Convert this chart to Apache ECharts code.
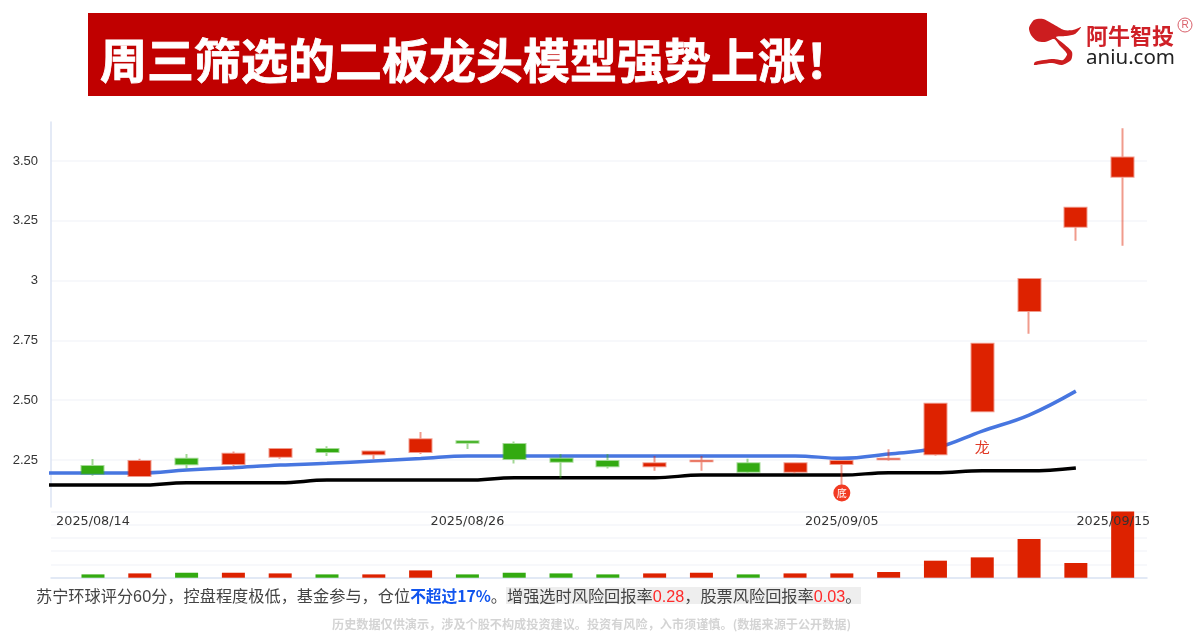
<!DOCTYPE html>
<html>
<head>
<meta charset="utf-8">
<title>周三筛选的二板龙头模型强势上涨</title>
<script src="https://cdn.jsdelivr.net/npm/echarts@6/dist/echarts.min.js"></script>
<style>
	html, body { margin: 0; padding: 0; background: #fff; }
	#main { width: 1201px; height: 640px; }
</style>
</head>
<body>
<div id="main"></div>
<script>
	var dates = ['2025/08/14', '2025/08/15', '2025/08/18', '2025/08/19', '2025/08/20', '2025/08/21', '2025/08/22', '2025/08/25',
		'2025/08/26', '2025/08/27', '2025/08/28', '2025/08/29', '2025/09/01', '2025/09/02', '2025/09/03', '2025/09/04',
		'2025/09/05', '2025/09/08', '2025/09/09', '2025/09/10', '2025/09/11', '2025/09/12', '2025/09/15'];
	var opens = [2.225, 2.183, 2.255, 2.233, 2.264, 2.296, 2.274, 2.283, 2.328, 2.317, 2.255, 2.246, 2.224, 2.245, 2.236, 2.201, 2.233, 2.253, 2.274, 2.454, 2.873, 3.225, 3.434];
	var closes = [2.193, 2.246, 2.232, 2.276, 2.296, 2.283, 2.286, 2.337, 2.322, 2.254, 2.243, 2.224, 2.236, 2.247, 2.201, 2.236, 2.246, 2.255, 2.485, 2.736, 3.007, 3.305, 3.515];
	var lows = [2.184, 2.183, 2.215, 2.225, 2.255, 2.267, 2.254, 2.275, 2.296, 2.235, 2.175, 2.214, 2.205, 2.205, 2.194, 2.194, 2.145, 2.247, 2.268, 2.454, 2.778, 3.167, 3.146];
	var highs = [2.254, 2.255, 2.275, 2.286, 2.296, 2.307, 2.286, 2.367, 2.328, 2.327, 2.275, 2.275, 2.267, 2.267, 2.255, 2.236, 2.246, 2.295, 2.485, 2.736, 3.007, 3.305, 3.637];
	var volumes = [5, 6.5, 7.5, 7.5, 6.5, 5, 5, 11, 5, 7.5, 6.5, 5, 6.5, 7.5, 5, 6.5, 6.5, 8.6, 25.7, 30.7, 58.5, 22.2, 100];
	// 两条均线都比第一根K线多一个点，从左边界画进来
	var blueLine = [2.196, 2.196, 2.196, 2.208, 2.218, 2.229, 2.236, 2.246, 2.256, 2.267, 2.267, 2.267, 2.267, 2.267, 2.267, 2.267, 2.267, 2.257, 2.275, 2.300, 2.371, 2.438, 2.538];
	var blackLine = [2.145, 2.145, 2.145, 2.155, 2.155, 2.155, 2.166, 2.166, 2.166, 2.166, 2.176, 2.176, 2.176, 2.176, 2.187, 2.187, 2.187, 2.187, 2.197, 2.197, 2.205, 2.205, 2.217];
	var priceTicks = [2.25, 2.5, 2.75, 3, 3.25, 3.5];
	var dateTicks = [0, 8, 16, 21.8]; // 最后一个日期标签向内收了一点
	var logoOutline = [[1029, 28], [1034, 20], [1043, 19], [1053, 24], [1064, 30], [1073, 30], [1081, 27], [1075, 34], [1066, 36], [1056, 37],
		[1064, 44], [1072, 52], [1071, 60], [1062, 65], [1052, 63], [1042, 64], [1034, 65], [1035, 62], [1044, 60], [1054, 59], [1063, 60], [1067, 54], [1060, 46], [1054, 39], [1045, 42], [1037, 41], [1031, 35]];

	var red = '#dd2200';
	var green = '#33aa11';

	var candleData = [];
	var volumeData = [];
	for (var i = 0; i < dates.length; i++) {
		candleData.push([i, opens[i], closes[i], lows[i], highs[i]]);
		volumeData.push({
			value: [i, volumes[i]],
			itemStyle: { color: closes[i] > opens[i] ? red : green }
		});
	}

	function linePoints(values) {
		var pts = [];
		for (var i = 0; i < values.length; i++) {
			pts.push([i - 1, values[i]]);
		}
		return pts;
	}

	var xMin = -0.897;
	var xMax = 22.52;
	var paleLine = '#f4f6fa';
	var axisBlue = '#dbe3f3';

	var chart = echarts.init(document.getElementById('main'), null, { renderer: 'canvas' });
	var option = {
		animation: false,
		backgroundColor: '#fff',
		grid: [
			{ left: 51, width: 1096, top: 122, height: 385 },
			{ left: 51, width: 1096, top: 511.5, height: 66.2 }
		],
		xAxis: [{
			type: 'value',
			gridIndex: 0,
			min: xMin,
			max: xMax,
			z: 5,
			splitLine: { show: false },
			axisLine: { show: false },
			axisTick: { show: false, customValues: dateTicks },
			axisLabel: {
				customValues: dateTicks,
				margin: 8,
				color: '#333',
				fontSize: 12.8,
				fontFamily: 'DejaVu Sans',
				formatter: function(v) {
					return dates[Math.ceil(v)];
				}
			}
		}, {
			type: 'value',
			gridIndex: 1,
			min: xMin,
			max: xMax,
			splitLine: { show: false },
			axisLine: { show: true, onZero: false, lineStyle: { color: axisBlue, width: 1.5 } },
			axisTick: { show: false },
			axisLabel: { show: false }
		}],
		yAxis: [{
			type: 'value',
			gridIndex: 0,
			min: 2.0535,
			max: 3.663,
			axisLine: { show: true, onZero: false, lineStyle: { color: axisBlue, width: 1.5 } },
			axisTick: { show: false, customValues: priceTicks },
			splitLine: { show: true, lineStyle: { color: paleLine, width: 1.5 } },
			axisLabel: {
				customValues: priceTicks,
				margin: 13,
				padding: [4, 0, 0, 0],
				color: '#333',
				fontSize: 13,
				fontFamily: 'Liberation Sans',
				formatter: function(v) {
					return v === 3 ? '3' : v.toFixed(2);
				}
			}
		}, {
			type: 'value',
			gridIndex: 1,
			min: 0,
			max: 100,
			interval: 20,
			axisLine: { show: false },
			axisTick: { show: false },
			axisLabel: { show: false },
			splitLine: { show: true, lineStyle: { color: paleLine, width: 1.5 } }
		}],
		series: [{
			name: 'blue',
			type: 'line',
			xAxisIndex: 0,
			yAxisIndex: 0,
			data: linePoints(blueLine),
			smooth: 0.4,
			showSymbol: false,
			z: 2,
			lineStyle: { color: '#4776e0', width: 3.5 }
		}, {
			name: 'black',
			type: 'line',
			xAxisIndex: 0,
			yAxisIndex: 0,
			data: linePoints(blackLine),
			smooth: 0.4,
			showSymbol: false,
			z: 2,
			lineStyle: { color: '#000', width: 3.5 }
		}, {
			name: 'kline',
			type: 'candlestick',
			xAxisIndex: 0,
			yAxisIndex: 0,
			data: candleData,
			barWidth: 22.5,
			z: 3,
			itemStyle: {
				color: red,
				color0: green,
				borderColor: 'rgba(221,34,0,0.45)',
				borderColor0: 'rgba(51,170,17,0.45)',
				borderWidth: 2
			},
			markPoint: {
				animation: false,
				data: [{
					coord: [16, 2.112],
					symbol: 'circle',
					symbolSize: 17,
					itemStyle: { color: '#f23a22' },
					label: { show: true, formatter: '底', color: '#fff', fontSize: 10, fontFamily: 'Noto Sans CJK SC' }
				}, {
					coord: [19, 2.304],
					symbol: 'circle',
					symbolSize: 1,
					itemStyle: { color: 'rgba(0,0,0,0)' },
					label: { show: true, position: 'inside', formatter: '龙', color: '#e03a26', fontSize: 15, fontFamily: 'Noto Sans CJK SC' }
				}]
			}
		}, {
			name: 'volume',
			type: 'bar',
			xAxisIndex: 1,
			yAxisIndex: 1,
			data: volumeData,
			barWidth: 23
		}],
		graphic: [
			{ type: 'rect', shape: { x: 88, y: 13, width: 839, height: 83 }, style: { fill: '#c00000' } },
			{
				type: 'text', x: 100, y: 60,
				style: {
					text: '周三筛选的二板龙头模型强势上涨！',
					fill: '#fff',
					stroke: '#fff',
					lineWidth: 0.8,
					font: 'bold 47px "Noto Sans CJK SC"',
					textVerticalAlign: 'middle'
				}
			},
			// logo
			{ type: 'polygon', shape: { points: logoOutline, smooth: 0.25 }, style: { fill: '#cc1d1f' } },
			{ type: 'text', x: 1086, y: 36, style: { text: '阿牛智投', fill: '#cf2027', font: 'bold 22px "Noto Sans CJK SC"', textVerticalAlign: 'middle' } },
			{ type: 'text', x: 1086, y: 58, style: { text: 'aniu.com', fill: '#222', font: '20.5px "Noto Sans"', textVerticalAlign: 'middle' } },
			{ type: 'circle', shape: { cx: 1185, cy: 25, r: 7 }, style: { fill: 'none', stroke: '#d9606a', lineWidth: 1 } },
			{ type: 'text', x: 1185, y: 25, style: { text: 'R', fill: '#d9606a', font: '10px "Liberation Sans"', textAlign: 'center', textVerticalAlign: 'middle' } },
			// bottom notes
			{ type: 'rect', shape: { x: 506, y: 587, width: 355, height: 17 }, style: { fill: '#eeeeee' } },
			{
				type: 'text', x: 36, y: 596,
				style: {
					text: '{a|苏宁环球评分}{n|60}{a|分，控盘程度极低，基金参与，仓位}{b|不超过17%}{a|。}',
					textVerticalAlign: 'middle',
					rich: {
						a: { fill: '#444', font: '16.2px "Noto Sans CJK SC"' },
						n: { fill: '#444', font: '16.2px "Liberation Sans"', padding: [3, 0, 0, 0] },
						b: { fill: '#1155ee', font: 'bold 15.7px "Noto Sans CJK SC"' }
					}
				}
			},
			{
				type: 'text', x: 507, y: 596,
				style: {
					text: '{a|增强选时风险回报率}{c|0.28}{a|，股票风险回报率}{c|0.03}{a|。}',
					textVerticalAlign: 'middle',
					rich: {
						a: { fill: '#444', font: '16.2px "Noto Sans CJK SC"' },
						c: { fill: '#ff2a2a', font: '16.2px "Liberation Sans"', padding: [3, 0, 0, 0] }
					}
				}
			},
			{
				type: 'text', x: 332, y: 624,
				style: {
					text: '历史数据仅供演示，涉及个股不构成投资建议。投资有风险，入市须谨慎。(数据来源于公开数据)',
					fill: '#d4d4d4',
					font: 'bold 12.15px "Noto Sans CJK SC"',
					textVerticalAlign: 'middle'
				}
			}
		]
	};
	chart.setOption(option);
</script>
</body>
</html>
